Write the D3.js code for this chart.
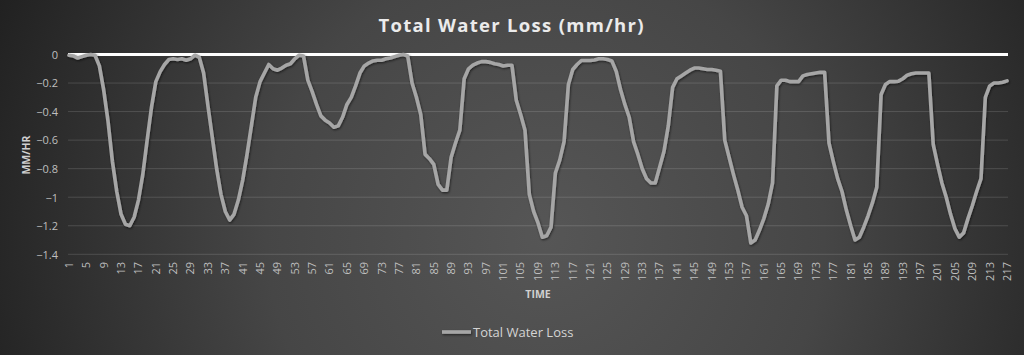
<!DOCTYPE html>
<html><head><meta charset="utf-8">
<script src="https://cdn.jsdelivr.net/npm/d3@7"></script>
<style>html,body{margin:0;padding:0;background:#2b2b2b;} svg{display:block}</style>
</head><body><svg id="c" width="1024" height="355"></svg>
<script>
const titleText = "Total Water Loss (mm/hr)";
const seriesName = "Total Water Loss";
const yTitle = "MM/HR";
const xTitle = "TIME";
const categories = d3.range(1, 218);
const xTickLabels = [1,5,9,13,17,21,25,29,33,37,41,45,49,53,57,61,65,69,73,77,81,85,89,93,97,101,105,109,113,117,121,125,129,133,137,141,145,149,153,157,161,165,169,173,177,181,185,189,193,197,201,205,209,213,217];
const yTicks = [0,-0.2,-0.4,-0.6,-0.8,-1,-1.2,-1.4];
const values = [
-0.005,-0.01,-0.025,-0.015,-0.005,0,-0.005,-0.08,-0.25,-0.47,
-0.75,-0.96,-1.12,-1.19,-1.2,-1.14,-1.02,-0.84,-0.6,-0.37,
-0.19,-0.12,-0.07,-0.035,-0.03,-0.035,-0.03,-0.04,-0.03,-0.005,
-0.02,-0.13,-0.36,-0.58,-0.8,-0.98,-1.1,-1.16,-1.12,-1.02,
-0.88,-0.7,-0.5,-0.3,-0.19,-0.13,-0.07,-0.1,-0.11,-0.095,
-0.075,-0.065,-0.03,-0.005,-0.01,-0.18,-0.26,-0.35,-0.43,-0.46,
-0.48,-0.51,-0.5,-0.44,-0.35,-0.3,-0.22,-0.13,-0.08,-0.06,
-0.045,-0.04,-0.04,-0.03,-0.025,-0.015,-0.005,0,-0.01,-0.2,
-0.3,-0.42,-0.7,-0.73,-0.77,-0.91,-0.95,-0.95,-0.72,-0.62,
-0.53,-0.17,-0.1,-0.075,-0.06,-0.05,-0.05,-0.055,-0.065,-0.07,
-0.08,-0.075,-0.075,-0.32,-0.42,-0.53,-0.98,-1.1,-1.18,-1.28,
-1.27,-1.21,-0.83,-0.74,-0.61,-0.21,-0.105,-0.07,-0.042,-0.042,
-0.042,-0.038,-0.03,-0.03,-0.035,-0.045,-0.117,-0.245,-0.35,-0.44,
-0.61,-0.7,-0.8,-0.87,-0.9,-0.9,-0.79,-0.68,-0.5,-0.23,
-0.17,-0.15,-0.13,-0.11,-0.095,-0.095,-0.1,-0.105,-0.105,-0.11,
-0.117,-0.6,-0.72,-0.84,-0.95,-1.07,-1.13,-1.32,-1.3,-1.23,
-1.15,-1.05,-0.9,-0.22,-0.18,-0.18,-0.19,-0.19,-0.19,-0.15,
-0.14,-0.135,-0.13,-0.125,-0.125,-0.62,-0.75,-0.87,-0.96,-1.09,
-1.2,-1.3,-1.28,-1.21,-1.13,-1.04,-0.93,-0.28,-0.21,-0.19,
-0.19,-0.187,-0.17,-0.145,-0.135,-0.13,-0.13,-0.13,-0.13,-0.63,
-0.77,-0.9,-1.0,-1.12,-1.22,-1.28,-1.25,-1.15,-1.06,-0.96,
-0.87,-0.3,-0.22,-0.2,-0.2,-0.195,-0.185
];

const svg = d3.select("#c");
const W = 1024, H = 355;
const defs = svg.append("defs");
const rg = defs.append("radialGradient").attr("id","bg")
  .attr("gradientUnits","userSpaceOnUse").attr("cx",545).attr("cy",235).attr("r",620);
rg.append("stop").attr("offset","0%").attr("stop-color","#565656");
rg.append("stop").attr("offset","45%").attr("stop-color","#464646");
rg.append("stop").attr("offset","100%").attr("stop-color","#1e1e1e");
const f = defs.append("filter").attr("id","sh").attr("filterUnits","userSpaceOnUse")
  .attr("x",0).attr("y",0).attr("width",W).attr("height",H);
f.append("feDropShadow").attr("dx",0.8).attr("dy",1.2).attr("stdDeviation",1.2).attr("flood-color","#000").attr("flood-opacity",0.55);

svg.append("rect").attr("width",W).attr("height",H).attr("fill","url(#bg)");

const x = d3.scaleBand().domain(categories).range([66.8, 1009.2]);
const xc = d => x(d) + x.bandwidth()/2;
const y = d3.scaleLinear().domain([-1.4, 0]).range([254.3, 54.5]);
const plotL = 68, plotR = 1008;

// gridlines
svg.append("g").selectAll("line").data(yTicks.filter(t => t !== 0)).join("line")
  .attr("x1", plotL).attr("x2", plotR)
  .attr("y1", d => y(d)).attr("y2", d => y(d))
  .attr("stroke", "rgba(255,255,255,0.14)").attr("stroke-width", 1);

// y axis labels
const yAxis = d3.axisLeft(y).tickValues(yTicks).tickSize(0).tickPadding(0).tickFormat(d => d3.format("")(+d.toFixed(1)));
const ya = svg.append("g").attr("transform","translate(58,0)").call(yAxis);
ya.select(".domain").remove();
ya.selectAll("text").attr("fill","#bfbfbf").attr("font-family","'Open Sans', sans-serif").attr("font-size",11).attr("dy","0.35em");

// x axis labels
const xAxis = d3.axisBottom(x).tickValues(xTickLabels).tickSize(0).tickPadding(0);
const xa = svg.append("g").attr("transform","translate(0,262)").call(xAxis);
xa.select(".domain").remove();
xa.selectAll("text")
  .attr("fill","#bfbfbf").attr("font-family","'Open Sans', sans-serif").attr("font-size",11)
  .attr("text-anchor","end").attr("transform","rotate(-90)")
  .attr("x",0).attr("y",0).attr("dy","0.35em");

// zero axis line
svg.append("line").attr("x1",plotL).attr("x2",plotR).attr("y1",y(0)).attr("y2",y(0))
  .attr("stroke","#ffffff").attr("stroke-width",3);

// data line
const line = d3.line().x((d,i) => xc(categories[i])).y(d => y(d));
svg.append("path").datum(values).attr("d", line)
  .attr("fill","none").attr("stroke","#a6a6a6").attr("stroke-width",3.6)
  .attr("stroke-linejoin","round").attr("stroke-linecap","round").attr("filter","url(#sh)");

// titles
svg.append("text").attr("x",511).attr("y",32).attr("text-anchor","middle")
  .attr("font-family","'Open Sans', sans-serif").attr("font-weight","bold").attr("font-size",18.5)
  .attr("fill","#ebebeb").attr("textLength",265).attr("lengthAdjust","spacing").text(titleText);
svg.append("text").attr("transform","translate(30,155) rotate(-90)").attr("text-anchor","middle")
  .attr("font-family","'Open Sans', sans-serif").attr("font-weight","bold").attr("font-size",10.5)
  .attr("fill","#d0d0d0").text(yTitle);
svg.append("text").attr("x",538).attr("y",298).attr("text-anchor","middle")
  .attr("font-family","'Open Sans', sans-serif").attr("font-weight","bold").attr("font-size",10.5)
  .attr("fill","#d0d0d0").text(xTitle);

// legend
svg.append("line").attr("x1",442).attr("x2",471).attr("y1",332).attr("y2",332)
  .attr("stroke","#a6a6a6").attr("stroke-width",3.6).attr("filter","url(#sh)");
svg.append("text").attr("x",473).attr("y",337)
  .attr("font-family","'Open Sans', sans-serif").attr("font-size",13)
  .attr("fill","#d4d4d4").text(seriesName);
</script></body></html>
